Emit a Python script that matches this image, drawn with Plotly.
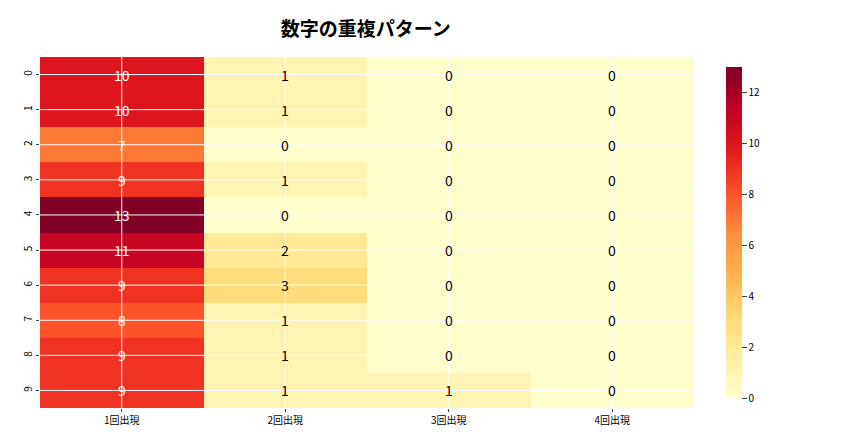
import plotly.graph_objects as go

rows = ["0","1","2","3","4","5","6","7","8","9"]
cols = ["1回出現","2回出現","3回出現","4回出現"]
values = [
    [10,1,0,0],[10,1,0,0],[7,0,0,0],[9,1,0,0],[13,0,0,0],
    [11,2,0,0],[9,3,0,0],[8,1,0,0],[9,1,0,0],[9,1,1,0],
]
ylorrd = ["#ffffcc","#ffeda0","#fed976","#feb24c","#fd8d3c","#fc4e2a","#e31a1c","#bd0026","#800026"]
cs = [[i/(len(ylorrd)-1), c] for i, c in enumerate(ylorrd)]
zmax = 13

fig = go.Figure(go.Heatmap(
    z=values, x=cols, y=rows, colorscale=cs, zmin=0, zmax=zmax,
    colorbar=dict(thickness=16, len=351, lenmode="pixels", y=0.5, yanchor="middle", x=1.0489, xpad=0,
                  tickvals=[0,2,4,6,8,10,12], tickfont=dict(size=10), outlinewidth=0, ticks="outside"),
))
ann = []
for i, r in enumerate(rows):
    for j, c in enumerate(cols):
        v = values[i][j]
        ann.append(dict(x=c, y=r, text=str(v), showarrow=False,
                        font=dict(size=14, color="white" if v > zmax*0.5 else "black")))
shapes = []
for r in rows:
    shapes.append(dict(type="line", xref="paper", x0=0, x1=1, yref="y", y0=r, y1=r,
                       line=dict(color="white", width=1), layer="above"))
for c in cols:
    shapes.append(dict(type="line", yref="paper", y0=0, y1=1, xref="x", x0=c, x1=c,
                       line=dict(color="white", width=1), layer="above"))
fig.update_layout(
    width=864, height=432, margin=dict(l=32, r=178, t=49, b=32),
    paper_bgcolor="white", plot_bgcolor="white",
    font=dict(family="Noto Sans CJK JP", color="black"),
    title=dict(text="<b>数字の重複パターン</b>", x=0.414, xanchor="center", y=0.95, yanchor="middle",
               yref="container", font=dict(size=19)),
    annotations=ann, shapes=shapes,
)
fig.update_xaxes(showgrid=False, automargin=False, tickfont=dict(size=10), ticks="outside", ticklen=3)
fig.update_yaxes(autorange="reversed", automargin=False, showgrid=False, tickfont=dict(size=10), tickangle=-90, ticks="outside", ticklen=3)
fig.write_html("out.html")
